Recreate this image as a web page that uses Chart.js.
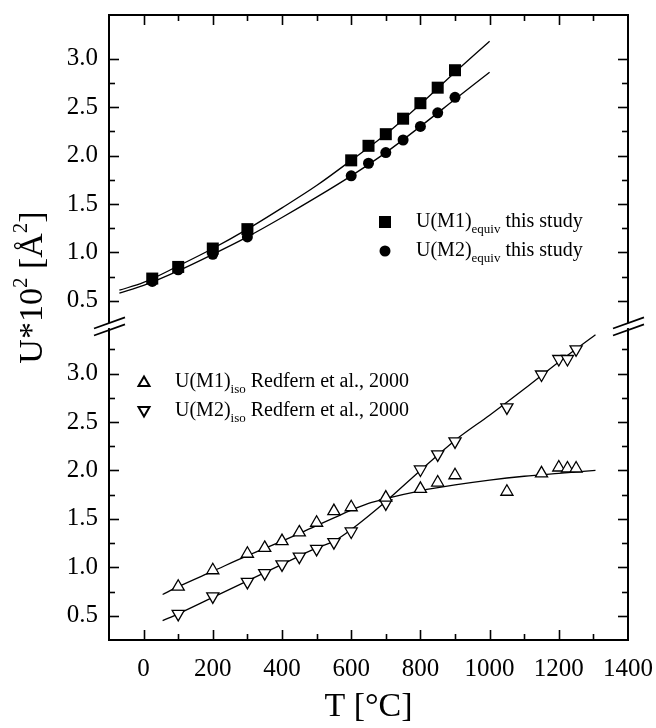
<!DOCTYPE html>
<html>
<head>
<meta charset="utf-8">
<script src="https://cdn.jsdelivr.net/npm/chart.js@4"></script>
<style>
  html, body { margin: 0; padding: 0; background: #fff; }
  #wrap { width: 656px; height: 728px; }
</style>
</head>
<body>
<div id="wrap"><canvas id="chart" width="656" height="728"></canvas></div>
<script>
// this study (top panel)
const tempEquiv = [25, 100, 200, 300, 600, 650, 700, 750, 800, 850, 900];
const uM1equiv = [0.73, 0.85, 1.04, 1.24, 1.95, 2.10, 2.22, 2.38, 2.54, 2.70, 2.88];
const uM2equiv = [0.70, 0.82, 0.98, 1.16, 1.79, 1.92, 2.03, 2.16, 2.30, 2.44, 2.60];

// Redfern et al., 2000 (bottom panel)
const tempIso = [100, 200, 300, 350, 400, 450, 500, 550, 600, 700, 800, 850, 900, 1050, 1150, 1200, 1225, 1250];
const uM1iso = [0.80, 0.97, 1.14, 1.20, 1.27, 1.36, 1.46, 1.58, 1.62, 1.72, 1.81, 1.875, 1.95, 1.78, 1.97, 2.03, 2.02, 2.02];
const uM2iso = [0.52, 0.70, 0.85, 0.94, 1.03, 1.11, 1.19, 1.26, 1.37, 1.66, 2.01, 2.165, 2.30, 2.65, 2.99, 3.15, 3.15, 3.25];

// fitted curves
const fitTempEquiv = [-70, 0, 100, 200, 300, 400, 500, 600, 700, 800, 900, 1000];
const fitM1equiv = [0.61, 0.69, 0.86, 1.04, 1.24, 1.46, 1.69, 1.95, 2.22, 2.53, 2.86, 3.18];
const fitM2equiv = [0.58, 0.66, 0.81, 0.98, 1.16, 1.36, 1.57, 1.79, 2.03, 2.30, 2.58, 2.86];
const fitTempIso = [55, 100, 200, 300, 400, 500, 550, 600, 650, 700, 800, 900, 1000, 1100, 1200, 1306];
const fitM1iso = [0.72, 0.80, 0.96, 1.12, 1.27, 1.43, 1.51, 1.59, 1.66, 1.71, 1.79, 1.85, 1.90, 1.94, 1.97, 2.00];
const fitM2iso = [0.45, 0.52, 0.69, 0.86, 1.03, 1.20, 1.27, 1.39, 1.53, 1.68, 2.00, 2.31, 2.57, 2.84, 3.12, 3.40];

const xTicks = { min: -100, max: 1400, step: 100, labelStep: 200 };
const topRange = [0.25, 3.45];
const bottomRange = [0.25, 3.5];

const FONT = '"Liberation Serif", "Times New Roman", serif';
Chart.defaults.font.family = FONT;
Chart.defaults.color = '#000';

const pts = (xs, ys) => xs.map((x, i) => ({ x: x, y: ys[i] }));

function markers(label, xs, ys, axis, style) {
  return Object.assign({
    label: label,
    data: pts(xs, ys),
    yAxisID: axis,
    showLine: false,
    pointBorderColor: '#000',
    pointHoverRadius: 0
  }, style);
}

function fitLine(xs, ys, axis) {
  return {
    data: pts(xs, ys),
    yAxisID: axis,
    showLine: true,
    borderColor: '#000',
    borderWidth: 1.3,
    pointRadius: 0,
    tension: 0.4,
    cubicInterpolationMode: 'monotone'
  };
}

const square = { pointStyle: 'rect', pointRadius: 8.5, pointBackgroundColor: '#000', pointBorderWidth: 0 };
const dot = { pointStyle: 'circle', pointRadius: 5.5, pointBackgroundColor: '#000', pointBorderWidth: 0 };
const triUp = { pointStyle: 'triangle', pointRadius: 7, pointBackgroundColor: '#fff', pointBorderWidth: 1.3 };
const triDown = Object.assign({}, triUp, { pointRotation: 180 });

// fixed box sizes, no extra room for half labels at the ends
function fixBox(w, h) {
  return s => {
    if (w !== null) s.width = w;
    if (h !== null) s.height = h;
    s.paddingTop = 0;
    s.paddingBottom = 0;
    s.paddingLeft = 0;
    s.paddingRight = 0;
  };
}

function yAxis(range, position, stack, weight, labels) {
  return {
    type: 'linear',
    position: position,
    stack: stack,
    stackWeight: weight,
    min: range[0],
    max: range[1],
    grid: { display: false, drawTicks: false },
    border: { display: true, color: '#000', width: 2 },
    ticks: {
      display: labels,
      autoSkip: false,
      stepSize: 0.25,
      padding: 11,
      font: { size: 25 },
      callback: (v, i, ticks) => {
        if (i === ticks.length - 1) return '';
        return Math.abs(v * 2 - Math.round(v * 2)) < 1e-6 ? v.toFixed(1) : '';
      }
    },
    afterFit: fixBox(position === 'left' ? 109 : 28, null)
  };
}

const innerTicks = {
  id: 'innerTicks',
  afterDraw(chart) {
    const { ctx, chartArea: a } = chart;
    ctx.save();
    ctx.strokeStyle = '#000';
    ctx.lineWidth = 1.6;
    Object.values(chart.scales).forEach(s => {
      const horiz = s.isHorizontal();
      const major = horiz ? 200 : 0.5;
      s.ticks.forEach(t => {
        const v = t.value;
        if (Math.abs(v - s.min) < 1e-6 || Math.abs(v - s.max) < 1e-6) return;
        const isMajor = Math.abs(v / major - Math.round(v / major)) < 1e-6;
        const len = isMajor ? 10 : 6;
        const p = Math.round(s.getPixelForValue(v)) + 0.5;
        ctx.beginPath();
        if (horiz) {
          const y0 = s.position === 'top' ? a.top : a.bottom;
          const dir = s.position === 'top' ? 1 : -1;
          ctx.moveTo(p, y0);
          ctx.lineTo(p, y0 + dir * len);
        } else {
          const x0 = s.position === 'left' ? a.left : a.right;
          const dir = s.position === 'left' ? 1 : -1;
          ctx.moveTo(x0, p);
          ctx.lineTo(x0 + dir * len, p);
        }
        ctx.stroke();
      });
    });

    // axis break marks at the panel junction
    const j = chart.scales.yTop.bottom;
    [a.left, a.right].forEach(ax => {
      ctx.fillStyle = '#fff';
      ctx.fillRect(ax - 3, j - 2, 6, 5);
      ctx.lineWidth = 1.8;
      [-3.5, 3.5].forEach(off => {
        ctx.beginPath();
        ctx.moveTo(ax - 15, j + 1.5 + off + 15 * 0.36);
        ctx.lineTo(ax + 16, j + 1.5 + off - 16 * 0.36);
        ctx.stroke();
      });
    });
    ctx.restore();
  }
};

function richText(ctx, x, y, parts) {
  // parts: [text, size, dy]
  parts.forEach(p => {
    ctx.font = p[1] + 'px ' + FONT;
    ctx.fillText(p[0], x, y + p[2]);
    x += ctx.measureText(p[0]).width;
  });
  return x;
}

function richWidth(ctx, parts) {
  let w = 0;
  parts.forEach(p => { ctx.font = p[1] + 'px ' + FONT; w += ctx.measureText(p[0]).width; });
  return w;
}

function drawMarker(ctx, kind, x, y) {
  ctx.beginPath();
  if (kind === 'square') {
    ctx.rect(x - 6, y - 6, 12, 12);
    ctx.fill();
  } else if (kind === 'circle') {
    ctx.arc(x, y, 5.5, 0, Math.PI * 2);
    ctx.fill();
  } else {
    const s = kind === 'up' ? 1 : -1;
    ctx.moveTo(x, y - s * 5.5);
    ctx.lineTo(x + 5.5, y + s * 4);
    ctx.lineTo(x - 5.5, y + s * 4);
    ctx.closePath();
    ctx.lineWidth = 2;
    ctx.stroke();
  }
}

const legends = [
  { kind: 'square', x: 385, y: 222, main: 'U(M1)', sub: 'equiv', rest: ' this study' },
  { kind: 'circle', x: 385, y: 251, main: 'U(M2)', sub: 'equiv', rest: ' this study' },
  { kind: 'up', x: 144, y: 382, main: 'U(M1)', sub: 'iso', rest: ' Redfern et al., 2000' },
  { kind: 'down', x: 144, y: 411, main: 'U(M2)', sub: 'iso', rest: ' Redfern et al., 2000' }
];

const decorations = {
  id: 'decorations',
  afterDraw(chart) {
    const ctx = chart.ctx;
    ctx.save();
    ctx.fillStyle = '#000';
    ctx.strokeStyle = '#000';
    ctx.textBaseline = 'middle';
    legends.forEach(l => {
      drawMarker(ctx, l.kind, l.x, l.y);
      richText(ctx, l.x + 31, l.y, [[l.main, 20, 0], [l.sub, 13, 8], [l.rest, 20, 0]]);
    });

    // y axis title spanning both panels
    const a = chart.chartArea;
    const title = [['U*10', 34, 0], ['2', 21, -12], [' [\u00C5', 34, 0], ['2', 21, -12], [']', 34, 0]];
    ctx.translate(33, (a.top + a.bottom) / 2 - 40);
    ctx.rotate(-Math.PI / 2);
    richText(ctx, -richWidth(ctx, title) / 2, 0, title);
    ctx.restore();
  }
};

// left stacked axes are placed last-defined on top, right ones first-defined on top
const scales = {
  x: {
    type: 'linear',
    position: 'bottom',
    min: xTicks.min,
    max: xTicks.max,
    grid: { display: false, drawTicks: false },
    border: { display: true, color: '#000', width: 2 },
    ticks: {
      stepSize: xTicks.step,
      padding: 14,
      maxRotation: 0,
      autoSkip: false,
      font: { size: 25 },
      callback: v => (v % xTicks.labelStep === 0 ? String(v) : '')
    },
    title: { display: true, text: 'T [\u00B0C]', font: { size: 34 }, padding: { top: 0, bottom: 1 } },
    afterFit: fixBox(null, 88)
  },
  xTop: {
    type: 'linear',
    position: 'top',
    min: xTicks.min,
    max: xTicks.max,
    grid: { display: false, drawTicks: false },
    border: { display: true, color: '#000', width: 2 },
    ticks: { display: false, stepSize: xTicks.step },
    afterFit: fixBox(null, 15)
  },
  yBot: yAxis(bottomRange, 'left', 'left', bottomRange[1] - bottomRange[0], true),
  yTop: yAxis(topRange, 'left', 'left', topRange[1] - topRange[0], true),
  yTopR: yAxis(topRange, 'right', 'right', topRange[1] - topRange[0], false),
  yBotR: yAxis(bottomRange, 'right', 'right', bottomRange[1] - bottomRange[0], false)
};

new Chart(document.getElementById('chart'), {
  type: 'scatter',
  data: {
    datasets: [
      markers('U(M1)equiv this study', tempEquiv, uM1equiv, 'yTop', square),
      markers('U(M2)equiv this study', tempEquiv, uM2equiv, 'yTop', dot),
      markers('U(M1)iso Redfern et al., 2000', tempIso, uM1iso, 'yBot', triUp),
      markers('U(M2)iso Redfern et al., 2000', tempIso, uM2iso, 'yBot', triDown),
      fitLine(fitTempEquiv, fitM1equiv, 'yTop'),
      fitLine(fitTempEquiv, fitM2equiv, 'yTop'),
      fitLine(fitTempIso, fitM1iso, 'yBot'),
      fitLine(fitTempIso, fitM2iso, 'yBot')
    ]
  },
  options: {
    responsive: false,
    animation: false,
    devicePixelRatio: 1,
    layout: { padding: 0 },
    plugins: { legend: { display: false }, tooltip: { enabled: false } },
    scales: scales
  },
  plugins: [innerTicks, decorations]
});
</script>
</body>
</html>
